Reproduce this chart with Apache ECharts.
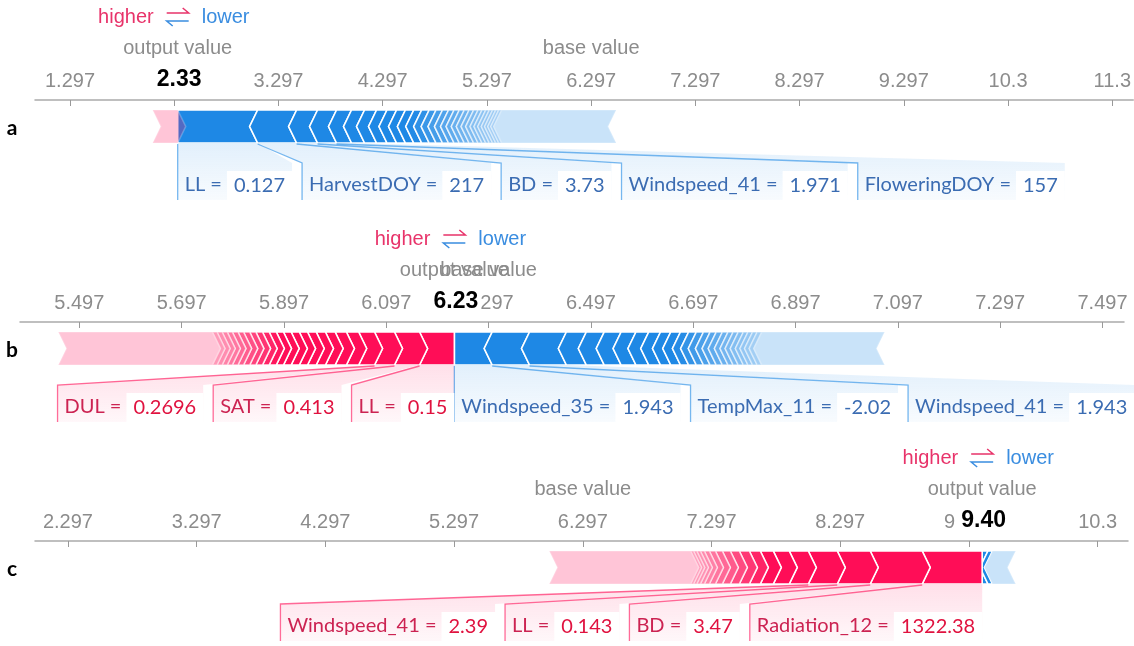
<!DOCTYPE html>
<html><head><meta charset="utf-8">
<script src="https://cdn.jsdelivr.net/npm/echarts@6/dist/echarts.min.js"></script>
<style>html,body{margin:0;padding:0;background:#fff}#c{width:1134px;height:646px}</style>
</head><body><div id="c"></div>
<script>
// ================= DATA =================
const BASE_VALUE = 6.297;
const panelLetters = ['a', 'b', 'c'];

// Panel a
const aTicks = [1.297, 2.297, 3.297, 4.297, 5.297, 6.297, 7.297, 8.297, 9.297, 10.297, 11.297];
const aAxisRange = [0.961, 11.498];
const aPosEffects = [];
const aPosRest = 0.24;
const aNegEffects = [0.767, 0.374, 0.201, 0.182, 0.144, 0.125, 0.115, 0.100, 0.092, 0.085, 0.080, 0.076, 0.072, 0.066, 0.062, 0.058, 0.053, 0.050, 0.048, 0.046, 0.044, 0.042, 0.038, 0.036, 0.034, 0.032, 0.030, 0.029, 0.028];
const aNegRest = 1.098;
const aPosNames = [];
const aPosValues = [];
const aNegNames = ['LL', 'HarvestDOY', 'BD', 'Windspeed_41', 'FloweringDOY'];
const aNegValues = ['0.127', '217', '3.73', '1.971', '157'];

// Panel b
const bTicks = [5.497, 5.697, 5.897, 6.097, 6.297, 6.497, 6.697, 6.897, 7.097, 7.297, 7.497];
const bAxisRange = [5.381, 7.539];
const bPosEffects = [0.068, 0.049, 0.039, 0.031, 0.024, 0.022, 0.019, 0.018, 0.017, 0.016, 0.016, 0.015, 0.014, 0.014, 0.013, 0.013, 0.012, 0.012, 0.011, 0.011, 0.010, 0.010, 0.010, 0.009];
const bPosRest = 0.301;
const bNegEffects = [0.074, 0.073, 0.072, 0.039, 0.035, 0.033, 0.029, 0.025, 0.023, 0.020, 0.019, 0.016, 0.015, 0.014, 0.013, 0.012, 0.012, 0.011, 0.010, 0.010, 0.010, 0.009, 0.009, 0.009, 0.009];
const bNegRest = 0.240;
const bPosNames = ['LL', 'SAT', 'DUL'];
const bPosValues = ['0.15', '0.413', '0.2696'];
const bNegNames = ['Windspeed_35', 'TempMax_11', 'Windspeed_41'];
const bNegValues = ['1.943', '-2.02', '1.943'];

// Panel c
const cTicks = [2.297, 3.297, 4.297, 5.297, 6.297, 7.297, 8.297, 9.297, 10.297];
const cAxisRange = [2.041, 10.533];
const cPosEffects = [0.466, 0.404, 0.256, 0.225, 0.148, 0.124, 0.101, 0.085, 0.078, 0.070, 0.062, 0.054, 0.047, 0.039, 0.031, 0.028, 0.025, 0.022];
const cPosRest = 1.098;
const cNegEffects = [0.045, 0.035];
const cNegRest = 0.180;
const cPosNames = ['Radiation_12', 'BD', 'LL', 'Windspeed_41'];
const cPosValues = ['1322.38', '3.47', '0.143', '2.39'];
const cNegNames = [];
const cNegValues = [];

// ================= STYLE / LAYOUT =================
const RED = '#ff0d57', BLUE = '#1e88e5';
const GRIDS = [
  { left: 35, top: 100, width: 1099, height: 100 },
  { left: 20, top: 322, width: 1104, height: 100 },
  { left: 35, top: 541, width: 1093, height: 100 }
];
const OFF = { barTop: 10, barBot: 43, linkY: 63, textY: 85, boxTop: 71, rowBot: 100, higher: -83, title: -52, outLbl: -20, letter: 28 };
const HEAD = 8;
const REST_OP = 0.24;
const LFONT_SIZE = 20, LFONT = 'Lato';
const PADL = 7, GAPV = 5, VPAD = 7, LGAP = 10;
const AXFONT = 'Liberation Sans';
const HIDE_TICK_PX = 10;

const mctx = document.createElement('canvas').getContext('2d');
function tw(t) { mctx.font = LFONT_SIZE + 'px ' + LFONT; return mctx.measureText(t).width; }
function sum(a) { return a.reduce((s, v) => s + v, 0); }
function fade(f) { return f < 0.72 ? 1 : 1 - 0.62 * (f - 0.72) / 0.28; }

function makePanel(o) {
  const posT = sum(o.posEffects), negT = sum(o.negEffects);
  const output = BASE_VALUE + posT + o.posRest - negT - o.negRest;
  const segs = [], negSegs = [], posSegs = [];
  let cur = output, cum = 0;
  o.negEffects.forEach((v, i) => {
    segs.push([cur, cur + v, 1, fade(cum / negT), i === 0 ? 1 : 0]);
    negSegs.push([cur, cur + v]); cur += v; cum += v;
  });
  if (o.negRest > 0) segs.push([cur, cur + o.negRest, 1, REST_OP, 0]);
  cur = output; cum = 0;
  o.posEffects.forEach((v, i) => {
    segs.push([cur - v, cur, 0, fade(cum / posT), i === 0 ? 1 : 0]);
    posSegs.push([cur - v, cur]); cur -= v; cum += v;
  });
  if (o.posRest > 0) segs.push([cur - o.posRest, cur, 0, REST_OP, 0]);
  return Object.assign({}, o, { output, segs, negSegs, posSegs });
}

const panels = [
  makePanel({ ticks: aTicks, range: aAxisRange, posEffects: aPosEffects, posRest: aPosRest, negEffects: aNegEffects, negRest: aNegRest, posNames: aPosNames, posValues: aPosValues, negNames: aNegNames, negValues: aNegValues }),
  makePanel({ ticks: bTicks, range: bAxisRange, posEffects: bPosEffects, posRest: bPosRest, negEffects: bNegEffects, negRest: bNegRest, posNames: bPosNames, posValues: bPosValues, negNames: bNegNames, negValues: bNegValues }),
  makePanel({ ticks: cTicks, range: cAxisRange, posEffects: cPosEffects, posRest: cPosRest, negEffects: cNegEffects, negRest: cNegRest, posNames: cPosNames, posValues: cPosValues, negNames: cNegNames, negValues: cNegValues })
];

function barItem(params, api) {
  const s = api.value(0), e = api.value(1), neg = api.value(2), op = api.value(3), flat = api.value(4);
  const pa = api.coord([s, 0]), pb = api.coord([e, 0]);
  const y0 = pa[1], T = y0 + OFF.barTop, B = y0 + OFF.barBot, M = (T + B) / 2;
  const xa = pa[0], xb = pb[0], h = HEAD;
  let pts;
  if (neg) {
    pts = flat ? [[xa, T], [xb, T], [xb - h, M], [xb, B], [xa, B]]
               : [[xa - h, M], [xa, T], [xb, T], [xb - h, M], [xb, B], [xa, B]];
  } else {
    pts = flat ? [[xa, T], [xb, T], [xb, B], [xa, B], [xa + h, M]]
               : [[xa, T], [xb, T], [xb + h, M], [xb, B], [xa, B], [xa + h, M]];
  }
  return { type: 'polygon', shape: { points: pts }, style: { fill: neg ? BLUE : RED, stroke: '#fff', lineWidth: 1.6, opacity: op } };
}

function labelLayout(P, api) {
  const cx = v => api.coord([v, 0])[0];
  const res = { neg: [], pos: [] };
  let prevEnd = -1e9;
  P.negNames.forEach((n, i) => {
    const seg = P.negSegs[i];
    const wN = tw(n + ' ='), wV = tw(P.negValues[i]);
    const W = PADL + wN + GAPV + 2 * VPAD + wV;
    const link = cx(seg[0]);
    const x = Math.max(link, prevEnd + LGAP);
    prevEnd = x + W;
    res.neg.push({ x, W, wN, wV, link, segL: cx(seg[0]), segR: cx(seg[1]), name: n, val: P.negValues[i] });
  });
  let prevStart = 1e9;
  P.posNames.forEach((n, i) => {
    const seg = P.posSegs[i];
    const wN = tw(n + ' ='), wV = tw(P.posValues[i]);
    const W = PADL + wN + GAPV + 2 * VPAD + wV;
    const R = Math.min(cx(seg[1]), prevStart - LGAP);
    const x = R - W;
    prevStart = x;
    res.pos.push({ x, W, wN, wV, link: cx(seg[0]), segL: cx(seg[0]), segR: cx(seg[1]), name: n, val: P.posValues[i] });
  });
  return res;
}

function labelItem(P, params, api) {
  const side = api.value(1), idx = api.value(2);
  const L = labelLayout(P, api)[side ? 'neg' : 'pos'][idx];
  const y0 = api.coord([P.output, 0])[1];
  const B = y0 + OFF.barBot, LT = y0 + OFF.linkY, LB = y0 + OFF.rowBot;
  const rgb = side ? '30,136,229' : '255,13,87';
  const txtName = side ? '#3b6cb2' : '#cc2352';
  const txtVal = side ? '#3b6cb2' : '#e0123f';
  const vx = L.x + PADL + L.wN + GAPV;
  return {
    type: 'group',
    children: [
      { type: 'polygon', shape: { points: [[L.segL, B], [L.segR, B], [L.x + L.W, LT], [L.x + L.W, LB], [L.x, LB], [L.x, LT]] },
        style: { fill: new echarts.graphic.LinearGradient(0, 0, 0, 1, [{ offset: 0, color: 'rgba(' + rgb + ',0.13)' }, { offset: 1, color: 'rgba(' + rgb + ',0.03)' }]) } },
      { type: 'polyline', shape: { points: [[L.link, B + 1], [L.x, LT], [L.x, LB]] },
        style: { stroke: 'rgba(' + rgb + ',0.6)', lineWidth: 1.3, fill: null } },
      { type: 'text', style: { x: L.x + PADL, y: y0 + OFF.textY, text: L.name + ' =', fill: txtName, fontSize: LFONT_SIZE, fontFamily: LFONT, align: 'left', verticalAlign: 'middle' } },
      { type: 'rect', shape: { x: vx, y: y0 + OFF.boxTop, width: L.wV + 2 * VPAD, height: OFF.rowBot - OFF.boxTop }, style: { fill: '#fff' } },
      { type: 'text', style: { x: vx + VPAD, y: y0 + OFF.textY + 1, text: L.val, fill: txtVal, fontSize: LFONT_SIZE, fontFamily: LFONT, align: 'left', verticalAlign: 'middle' } }
    ]
  };
}

function annotItem(pi, params, api) {
  const out = api.value(0), base = api.value(1);
  const po = api.coord([out, 0]), pb = api.coord([base, 0]);
  const oX = po[0], y0 = po[1], bX = pb[0];
  const yA = y0 + OFF.higher;
  const grey = '#8c8c8c';
  return {
    type: 'group',
    children: [
      { type: 'text', style: { x: oX - 24, y: yA, text: 'higher', fill: '#e8336a', fontSize: 20, fontFamily: AXFONT, align: 'right', verticalAlign: 'middle' } },
      { type: 'polyline', shape: { points: [[oX - 11, yA - 4], [oX + 11, yA - 4], [oX + 5, yA - 9]] }, style: { stroke: '#e8336a', lineWidth: 1.5, fill: null } },
      { type: 'polyline', shape: { points: [[oX + 11, yA + 4], [oX - 11, yA + 4], [oX - 5, yA + 9]] }, style: { stroke: '#3a8de0', lineWidth: 1.5, fill: null } },
      { type: 'text', style: { x: oX + 24, y: yA, text: 'lower', fill: '#3a8de0', fontSize: 20, fontFamily: AXFONT, align: 'left', verticalAlign: 'middle' } },
      { type: 'text', style: { x: oX, y: y0 + OFF.title, text: 'output value', fill: grey, fontSize: 20, fontFamily: AXFONT, align: 'center', verticalAlign: 'middle' } },
      { type: 'text', style: { x: bX, y: y0 + OFF.title, text: 'base value', fill: grey, fontSize: 20, fontFamily: AXFONT, align: 'center', verticalAlign: 'middle' } },
      { type: 'text', style: { x: oX, y: y0 + OFF.outLbl, text: out.toFixed(2), fill: '#000', fontSize: 23, fontWeight: 'bold', fontFamily: AXFONT, align: 'center', verticalAlign: 'middle', backgroundColor: '#fff', padding: [1, 3, 1, 6] } },
      { type: 'text', style: { x: 12, y: y0 + OFF.letter, text: panelLetters[pi], fill: '#000', fontSize: 21, fontWeight: 'bold', fontFamily: LFONT, align: 'center', verticalAlign: 'middle' } }
    ]
  };
}

function fmtTick(v) { return String(parseFloat(Number(v).toPrecision(4))); }

const grid = [], xAxis = [], yAxis = [], series = [];
panels.forEach((P, i) => {
  const g = GRIDS[i];
  const pxPerUnit = g.width / (P.range[1] - P.range[0]);
  const labelTicks = P.ticks.filter(t => Math.abs(t - P.output) * pxPerUnit > HIDE_TICK_PX);
  grid.push(Object.assign({ containLabel: false }, g));
  xAxis.push({
    type: 'value', gridIndex: i, position: 'top', min: P.range[0], max: P.range[1],
    axisLine: { show: true, onZero: false, lineStyle: { color: '#aaaaaa', width: 1.5 } },
    axisTick: { show: true, inside: true, length: 6, lineStyle: { color: '#999' }, customValues: P.ticks },
    axisLabel: { show: true, customValues: labelTicks, formatter: fmtTick, color: '#8c8c8c', fontSize: 20, fontFamily: AXFONT, margin: 9 },
    splitLine: { show: false }
  });
  yAxis.push({ type: 'value', gridIndex: i, min: 0, max: 100, inverse: true, show: false });
  series.push({
    type: 'custom', coordinateSystem: 'cartesian2d', xAxisIndex: i, yAxisIndex: i, clip: false, silent: true, z: 3,
    encode: { x: [0, 1], y: 2 }, data: P.segs, renderItem: barItem
  });
  const ldata = [];
  P.negNames.forEach((n, k) => ldata.push([P.negSegs[k][0], 1, k]));
  P.posNames.forEach((n, k) => ldata.push([P.posSegs[k][0], 0, k]));
  series.push({
    type: 'custom', coordinateSystem: 'cartesian2d', xAxisIndex: i, yAxisIndex: i, clip: false, silent: true, z: 4,
    encode: { x: 0, y: 1 }, data: ldata, renderItem: (params, api) => labelItem(P, params, api)
  });
  series.push({
    type: 'custom', coordinateSystem: 'cartesian2d', xAxisIndex: i, yAxisIndex: i, clip: false, silent: true, z: 5,
    encode: { x: [0, 1] }, data: [[P.output, BASE_VALUE]], renderItem: (params, api) => annotItem(i, params, api)
  });
});

const chart = echarts.init(document.getElementById('c'));
chart.setOption({ animation: false, grid, xAxis, yAxis, series });
</script>
</body></html>
